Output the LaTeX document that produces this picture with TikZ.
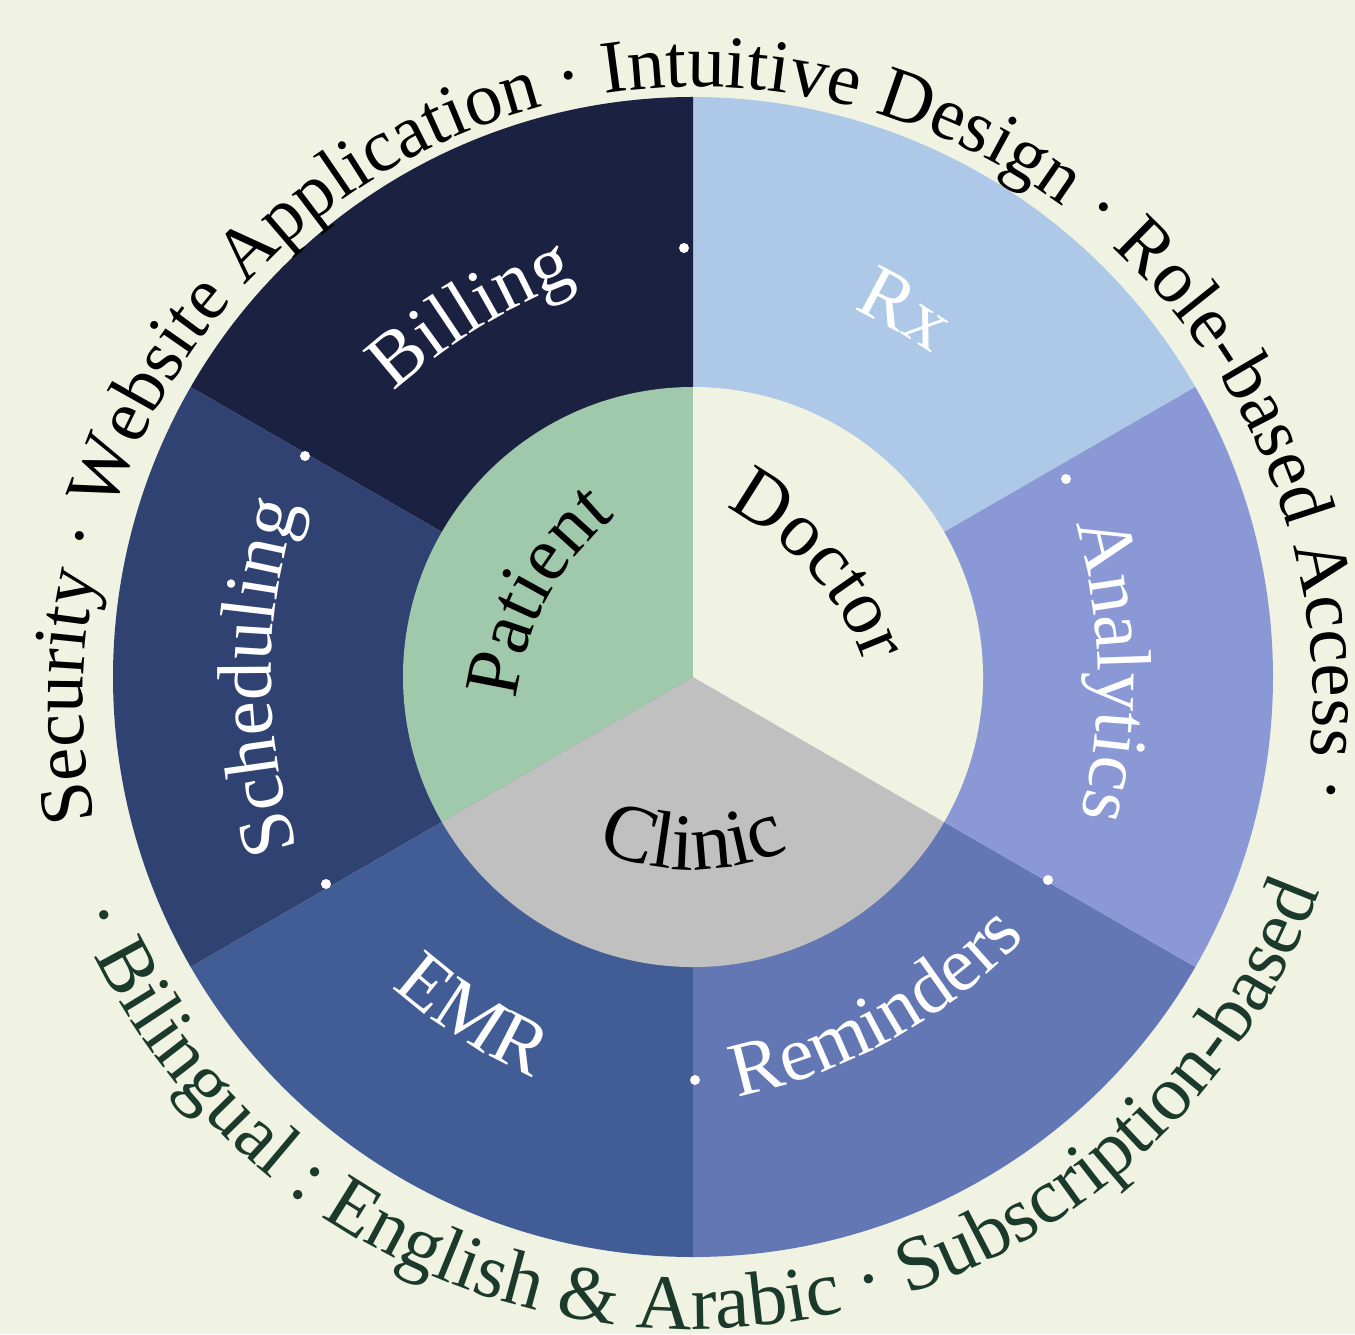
\documentclass[tikz,border=0pt]{standalone}
\usepackage{fontspec}
\setmainfont{Liberation Serif}
\usetikzlibrary{decorations.text}

\definecolor{bgcream}{HTML}{F0F3E2}
\definecolor{billing}{HTML}{1B2140}
\definecolor{sched}{HTML}{2F4272}
\definecolor{emr}{HTML}{425C96}
\definecolor{remind}{HTML}{6477B5}
\definecolor{analyt}{HTML}{8A98D6}
\definecolor{rx}{HTML}{ADC9E7}
\definecolor{patient}{HTML}{A0C8AA}
\definecolor{clinic}{HTML}{C0C0C0}
\definecolor{darkgreen}{HTML}{1B3A2B}

\newcommand\ringfont{\fontsize{21.3}{25}\selectfont}
\newcommand\lowfont{\fontsize{22.1}{26}\selectfont}
\newcommand\segfont{\fontsize{22}{26}\selectfont}
\newcommand\hubfont{\fontsize{22}{26}\selectfont}

\begin{document}
\begin{tikzpicture}[
              ringtext/.style={decorate, decoration={text along path, text align=center, text color=#1}},
              seglabel/.style={decorate, decoration={text along path, text align=center, text color=white, text={|\segfont|#1}}},
              hublabel/.style={decorate, decoration={text along path, text align=center, text color=black, text={|\hubfont|#1}}},
              dot/.style={fill=white}
            ]

            \fill[bgcream] (-6.93,-6.57) rectangle (6.62,6.77);
            \useasboundingbox (-6.93,-6.57) rectangle (6.62,6.77);

            % Outer ring
            \fill[rx] (0,0) -- (30:5.8) arc[start angle=30, end angle=90, radius=5.8] -- cycle;
            \fill[billing] (0,0) -- (90:5.8) arc[start angle=90, end angle=150, radius=5.8] -- cycle;
            \fill[sched] (0,0) -- (150:5.8) arc[start angle=150, end angle=210, radius=5.8] -- cycle;
            \fill[emr] (0,0) -- (210:5.8) arc[start angle=210, end angle=270, radius=5.8] -- cycle;
            \fill[remind] (0,0) -- (270:5.8) arc[start angle=270, end angle=330, radius=5.8] -- cycle;
            \fill[analyt] (0,0) -- (-30:5.8) arc[start angle=-30, end angle=30, radius=5.8] -- cycle;

            % Inner circle
            \fill[patient] (0,0) -- (90:2.9) arc[start angle=90, end angle=210, radius=2.9] -- cycle;
            \fill[clinic] (0,0) -- (210:2.9) arc[start angle=210, end angle=330, radius=2.9] -- cycle;
            \fill[bgcream] (0,0) -- (-30:2.9) arc[start angle=-30, end angle=90, radius=2.9] -- cycle;

            % Dots
            \fill[dot] (-0.09,4.29) circle (0.05);
            \fill[dot] (-3.88,2.21) circle (0.05);
            \fill[dot] (-3.67,-2.07) circle (0.05);
            \fill[dot] (0.02,-4.03) circle (0.05);
            \fill[dot] (3.55,-2.03) circle (0.05);
            \fill[dot] (3.73,1.98) circle (0.05);

            % Segment labels
            \path[seglabel=Billing] ([shift={(121.4:-1.41)}]161.4:5.5) arc[start angle=161.4, end angle=81.4, radius=5.5];
            \path[seglabel=Rx] ([shift={(60:-1.49)}]100:5.5) arc[start angle=100, end angle=20, radius=5.5];
            \path[seglabel=Analytics] ([shift={(1:-1.45)}]41:5.5) arc[start angle=41, end angle=-39, radius=5.5];
            \path[seglabel=Scheduling] ([shift={(180:-1.28)}]220:5.5) arc[start angle=220, end angle=140, radius=5.5];
            \path[seglabel=Reminders] ([shift={(-61:-1.36)}]-101:5.5) arc[start angle=-101, end angle=-21, radius=5.5];
            \path[seglabel=EMR] ([shift={(-123:-1.2)}]-163:5.5) arc[start angle=-163, end angle=-83, radius=5.5];

            % Hub labels
            \path[hublabel=Patient] ([shift={(151.5:-1.15)}]191.5:2.8) arc[start angle=191.5, end angle=111.5, radius=2.8];
            \path[hublabel=Doctor] ([shift={(41.5:-1.23)}]81.5:2.8) arc[start angle=81.5, end angle=1.5, radius=2.8];
            \path[hublabel=Clinic, decoration={text={|\fontsize{23}{27}\selectfont|Clinic}}]
              ([shift={(270:-0.37)}]230:2.3) arc[start angle=230, end angle=310, radius=2.3];

            % Ring texts
            \path[ringtext=black, decoration={text={|\ringfont|Security · Website Application · Intuitive Design · Role-based Access ·}}]
              ([shift={(0.05,-0.25)}]206:6.15) arc[start angle=206, end angle=-24, radius=6.15];
            \path[ringtext=darkgreen, decoration={text={|\lowfont|· Bilingual : English {\&} Arabic · Subscription-based}}]
              ([shift={(0,0.15)}]181:6.67) arc[start angle=181, end angle=361, radius=6.67];

            \end{tikzpicture}
\end{document}
